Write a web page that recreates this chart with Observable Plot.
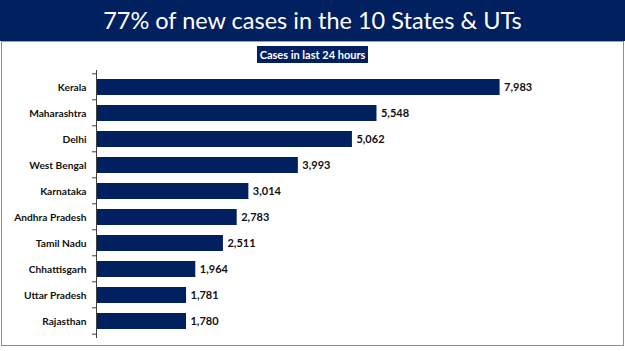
<!DOCTYPE html>
<html>
<head>
<meta charset="utf-8">
<script src="https://cdn.jsdelivr.net/npm/d3@7"></script>
<script src="https://cdn.jsdelivr.net/npm/@observablehq/plot@0.6"></script>
<style>
  html, body { margin: 0; padding: 0; background: #fff; }
  #page { position: relative; width: 625px; height: 351px; overflow: hidden; font-family: Lato, "Open Sans", sans-serif; }
  #header { position: absolute; left: 0; top: 0; width: 625px; height: 41px; background: #002060; color: #fff;
    font-family: Lato, sans-serif; font-size: 23.5px; text-align: center; line-height: 40px; }
  #panel { position: absolute; left: 1px; top: 41px; width: 621px; height: 303px; border: 1px solid #8c8c8c; border-top: 1.5px solid #a0a0a0; border-left-width: 1.5px; }
  #sub { position: absolute; left: 257px; top: 46px; width: 111px; height: 17px; background: #002060; color: #fff;
    font-family: Lato, sans-serif; font-weight: bold; font-size: 11px; line-height: 17px; text-align: center; }
  #chart { position: absolute; left: 0; top: 64px; }
</style>
</head>
<body>
<div id="page">
  <div id="header">77% of new cases in the 10 States &amp; UTs</div>
  <div id="panel"></div>
  <div id="sub">Cases in last 24 hours</div>
  <div id="chart"></div>
</div>
<script>
const states = ["Kerala", "Maharashtra", "Delhi", "West Bengal", "Karnataka", "Andhra Pradesh", "Tamil Nadu", "Chhattisgarh", "Uttar Pradesh", "Rajasthan"];
const cases = [7983, 5548, 5062, 3993, 3014, 2783, 2511, 1964, 1781, 1780];

const data = states.map((s, i) => ({state: s, cases: cases[i]}));
const navy = "#002060";
const fmt = d3.format(",");

const chart = Plot.plot({
  width: 625,
  height: 280,
  marginLeft: 96,
  marginRight: 74,
  marginTop: 6,
  marginBottom: 6,
  style: {fontFamily: "Lato, sans-serif", background: "transparent", overflow: "visible"},
  x: {domain: [0, 9000], axis: null},
  y: {domain: states, paddingInner: 0.4, paddingOuter: 0.2, axis: null},
  marks: [
    Plot.barX(data, {y: "state", x: "cases", fill: navy}),
    Plot.text(data, {y: "state", x: "cases", text: d => fmt(d.cases), textAnchor: "start", dx: 4,
      fill: "#111", fontWeight: "bold", fontSize: 11}),
    Plot.axisY({tickSize: 0, tickPadding: 10, fontSize: 10.2, fontWeight: "bold", fill: "#111", label: null}),
    Plot.ruleX([0], {stroke: "#404040", strokeWidth: 1})
  ]
});

// band-boundary tick marks on the category axis, placed with Plot's own y scale
const ys = chart.scale("y");
const xs = chart.scale("x");
const x0 = xs.apply(0);
const svg = d3.select(chart);
const g = svg.append("g").attr("stroke", "#404040").attr("stroke-width", 1);
const bounds = states.map(s => ys.apply(s) - ys.step * ys.paddingOuter);
bounds.push(ys.apply(states[states.length - 1]) + ys.bandwidth + ys.step * ys.paddingOuter);
bounds.forEach(y => g.append("line").attr("x1", x0 - 4).attr("x2", x0).attr("y1", y).attr("y2", y));

document.getElementById("chart").appendChild(chart);
</script>
</body>
</html>
